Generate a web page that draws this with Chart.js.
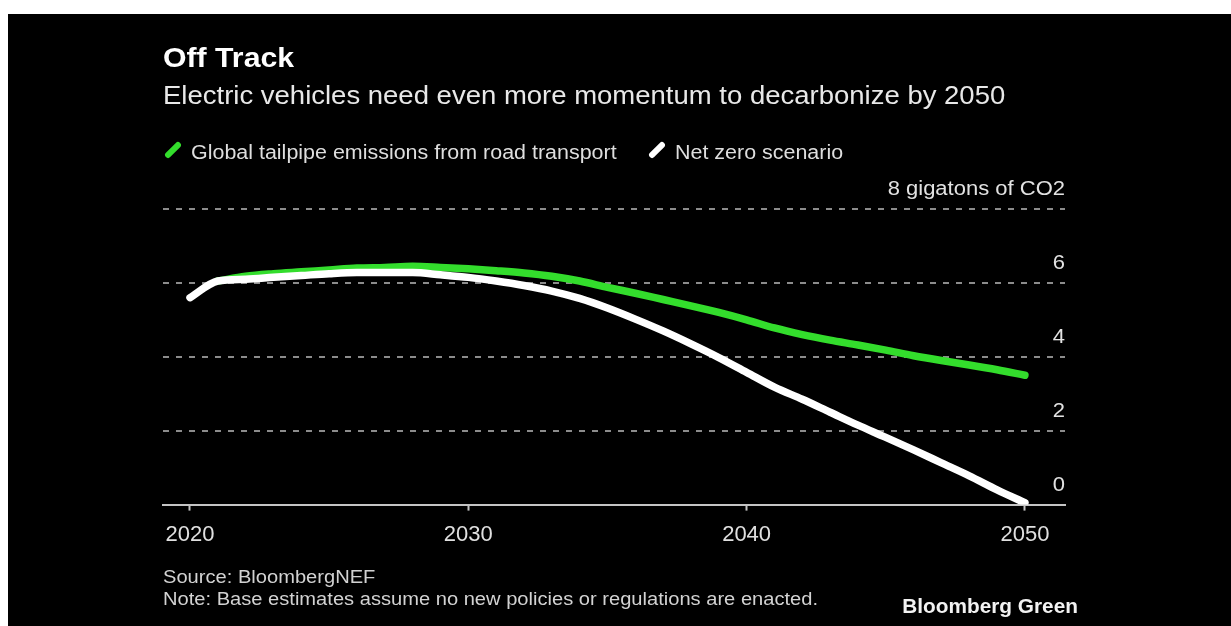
<!DOCTYPE html>
<html>
<head>
<meta charset="utf-8">
<script src="https://cdn.jsdelivr.net/npm/chart.js@4.4.1/dist/chart.umd.min.js"></script>
<style>
html, body { margin: 0; padding: 0; background: #fff; width: 1231px; height: 626px; overflow: hidden; }
#frame { position: absolute; left: 8px; top: 14px; right: 0; bottom: 0; background: #000; }
#chart { position: absolute; left: 0; top: 0; }
.txt { position: absolute; white-space: nowrap; font-family: "Liberation Sans", Arial, sans-serif; line-height: 1; transform-origin: 0 0; }
#title { left: 163px; top: 44px; font-size: 28px; font-weight: bold; color: #fff; transform: scaleX(1.08); }
#subtitle { left: 163px; top: 83px; font-size: 25px; color: #e8e8e8; transform: scaleX(1.1); }
.legend-text { top: 142.5px; font-size: 19.5px; color: #dedede; transform: scaleX(1.1); }
.legend-mark { position: absolute; top: 147px; width: 20px; height: 6px; border-radius: 3px; transform: rotate(-45deg); }
#source { left: 163px; top: 567.5px; font-size: 18.3px; color: #d2d2d2; transform: scaleX(1.1); }
#note { left: 163px; top: 589.5px; font-size: 18.3px; color: #d2d2d2; transform: scaleX(1.1); }
#brand { right: 153px; top: 596px; font-size: 20px; font-weight: bold; color: #f2f2f2; transform-origin: 100% 0; transform: scaleX(1.04); }
</style>
</head>
<body>
<div id="frame"></div>
<canvas id="chart" width="1231" height="626"></canvas>
<div class="txt" id="title">Off Track</div>
<div class="txt" id="subtitle">Electric vehicles need even more momentum to decarbonize by 2050</div>
<div id="legend"></div>
<div class="txt" id="source">Source: BloombergNEF</div>
<div class="txt" id="note">Note: Base estimates assume no new policies or regulations are enacted.</div>
<div class="txt" id="brand">Bloomberg Green</div>
<script>
const years = [2020, 2021, 2022, 2023, 2024, 2025, 2026, 2027, 2028, 2029,
               2030, 2031, 2032, 2033, 2034, 2035, 2036, 2037, 2038, 2039,
               2040, 2041, 2042, 2043, 2044, 2045, 2046, 2047, 2048, 2049, 2050];

// gigatons of CO2
const tailpipe = [null, 6.05, 6.18, 6.25, 6.30, 6.35, 6.40, 6.42, 6.45, 6.42,
                  6.38, 6.33, 6.27, 6.18, 6.05, 5.88, 5.72, 5.55, 5.38, 5.20,
                  5.00, 4.78, 4.60, 4.45, 4.32, 4.18, 4.03, 3.90, 3.78, 3.65, 3.50];

const netZero = [5.60, 6.05, 6.10, 6.15, 6.20, 6.25, 6.28, 6.28, 6.28, 6.22,
                 6.15, 6.05, 5.93, 5.78, 5.58, 5.32, 5.02, 4.70, 4.35, 3.98,
                 3.58, 3.18, 2.85, 2.50, 2.15, 1.82, 1.48, 1.13, 0.78, 0.40, 0.05];

const xTickValues = [2020, 2030, 2040, 2050];
const yTickValues = [0, 2, 4, 6, 8];
const yTickLabels = ['0', '2', '4', '6', '8 gigatons of CO2'];

const seriesLabels = ['Global tailpipe emissions from road transport', 'Net zero scenario'];
const seriesColors = ['#33dd2c', '#ffffff'];

const FONT = '"Liberation Sans", Arial, sans-serif';

// legend: slanted bar + label, laid out by hand
const legendMarkX = [163, 647];
const legendTextX = [191, 675];
const legendEl = document.getElementById('legend');
seriesLabels.forEach((label, i) => {
    const mark = document.createElement('span');
    mark.className = 'legend-mark';
    mark.style.left = legendMarkX[i] + 'px';
    mark.style.background = seriesColors[i];
    legendEl.appendChild(mark);
    const txt = document.createElement('div');
    txt.className = 'txt legend-text';
    txt.style.left = legendTextX[i] + 'px';
    txt.textContent = label;
    legendEl.appendChild(txt);
});

// y labels sit just above their gridline, right aligned
const yLabelPlugin = {
    id: 'yLabels',
    afterDraw(chart) {
        const {ctx, chartArea, scales: {y}} = chart;
        ctx.save();
        ctx.font = '20px ' + FONT;
        ctx.fillStyle = '#e2e2e2';
        ctx.textAlign = 'right';
        ctx.textBaseline = 'alphabetic';
        yTickValues.forEach((v, i) => {
            const py = y.getPixelForValue(v) - 14;
            ctx.save();
            ctx.translate(chartArea.right, py);
            ctx.scale(1.1, 1);
            ctx.fillText(yTickLabels[i], 0, 0);
            ctx.restore();
        });
        ctx.restore();
    }
};

const ctx = document.getElementById('chart').getContext('2d');
const chart = new Chart(ctx, {
    type: 'line',
    data: {
        labels: years,
        datasets: [
            {
                label: seriesLabels[0],
                data: years.map((yr, i) => ({x: yr, y: tailpipe[i]})),
                borderColor: seriesColors[0],
                borderWidth: 7.5,
                order: 1
            },
            {
                label: seriesLabels[1],
                data: years.map((yr, i) => ({x: yr, y: netZero[i]})),
                borderColor: seriesColors[1],
                borderWidth: 7.5,
                order: 0
            }
        ]
    },
    options: {
        responsive: false,
        animation: false,
        layout: {
            padding: {left: 163, right: 166, top: 209, bottom: 67}
        },
        elements: {
            point: {radius: 0},
            line: {
                cubicInterpolationMode: 'monotone',
                borderCapStyle: 'round',
                borderJoinStyle: 'round',
                fill: false
            }
        },
        plugins: {
            legend: {display: false},
            tooltip: {enabled: false}
        },
        scales: {
            x: {
                type: 'linear',
                min: 2019.03,
                max: 2051.44,
                afterBuildTicks: (scale) => {
                    scale.ticks = xTickValues.map(v => ({value: v}));
                },
                grid: {
                    drawOnChartArea: false,
                    drawTicks: true,
                    tickLength: 6,
                    tickWidth: 2,
                    tickColor: '#c4c4c4'
                },
                border: {display: true, color: '#c4c4c4', width: 2},
                ticks: {
                    padding: 11,
                    maxRotation: 0,
                    autoSkip: false,
                    color: '#e0e0e0',
                    font: {family: FONT, size: 22},
                    callback: (v) => String(v)
                }
            },
            y: {
                position: 'right',
                min: 0,
                max: 8,
                afterBuildTicks: (scale) => {
                    scale.ticks = yTickValues.map(v => ({value: v}));
                },
                grid: {
                    drawTicks: false,
                    lineWidth: 2,
                    color: (c) => c.tick && c.tick.value === 0 ? 'rgba(0,0,0,0)' : '#8c8c8c'
                },
                border: {display: false, dash: [6, 7]},
                ticks: {display: false}
            }
        }
    },
    plugins: [yLabelPlugin]
});
</script>
</body>
</html>
